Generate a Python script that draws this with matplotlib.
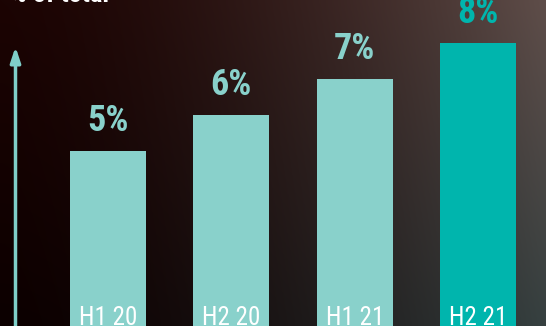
import numpy as np
import matplotlib
matplotlib.use("Agg")
import matplotlib.pyplot as plt
from matplotlib import font_manager

categories = ["H1 20", "H2 20", "H1 21", "H2 21"]
values = [5, 6, 7, 8]
labels = ["5%", "6%", "7%", "8%"]
title = "% of total"

light = "#89d1cb"
strong = "#00b5ad"
colors = [light, light, light, strong]

names = {f.name for f in font_manager.fontManager.ttflist}
narrow = next((n for n in ["Roboto Condensed", "Barlow Condensed", "Asap Condensed",
                           "Liberation Sans Narrow"] if n in names), "DejaVu Sans")

fig = plt.figure(figsize=(5.46, 3.26), dpi=100)

# background gradient
bg = fig.add_axes([0, 0, 1, 1])
bg.set_axis_off()
h, w = 60, 100
u = np.linspace(0, 1, w)[None, :, None]
v = np.linspace(0, 1, h)[:, None, None]
tl = np.array([0x1c, 0x04, 0x03]) / 255
bl = np.array([0x0c, 0x00, 0x00]) / 255
tr = np.array([0x5e, 0x4d, 0x49]) / 255
br = np.array([0x36, 0x40, 0x40]) / 255
uu = u ** 1.6
img = (1 - v) * ((1 - uu) * tl + uu * tr) + v * ((1 - uu) * bl + uu * br)
bg.imshow(img, aspect="auto", extent=[0, 1, 0, 1], interpolation="bicubic")

ax = fig.add_axes([0, 0, 1, 1])
ax.patch.set_visible(False)
x = np.arange(len(categories))
ax.bar(x, values, width=0.616, color=colors)
ax.set_xlim(-0.876, 3.55)
ax.set_ylim(0.14, 9.19)
ax.set_axis_off()

for xi, val, lab, c in zip(x, values, labels, colors):
    ax.text(xi, val + 0.55, lab, ha="center", va="baseline", color=c,
            fontsize=26, fontweight="bold", family=narrow)
    ax.text(xi, 0.17, categories[xi], ha="center", va="baseline", color="white",
            fontsize=18, family=narrow)

# vertical axis arrow
ax.annotate("", xy=(15.5 / 546, 1 - 44 / 326), xytext=(15.5 / 546, -0.01),
            xycoords="axes fraction", textcoords="axes fraction",
            arrowprops=dict(arrowstyle="-|>,head_width=0.3,head_length=0.9",
                            color="#7fcfc9", lw=2.5))

fig.text(10 / 546, 1 - 1.5 / 326, title, ha="left", va="baseline", color="white",
         fontsize=19, fontweight="bold", family=narrow)

fig.savefig("out.png", dpi=100)
